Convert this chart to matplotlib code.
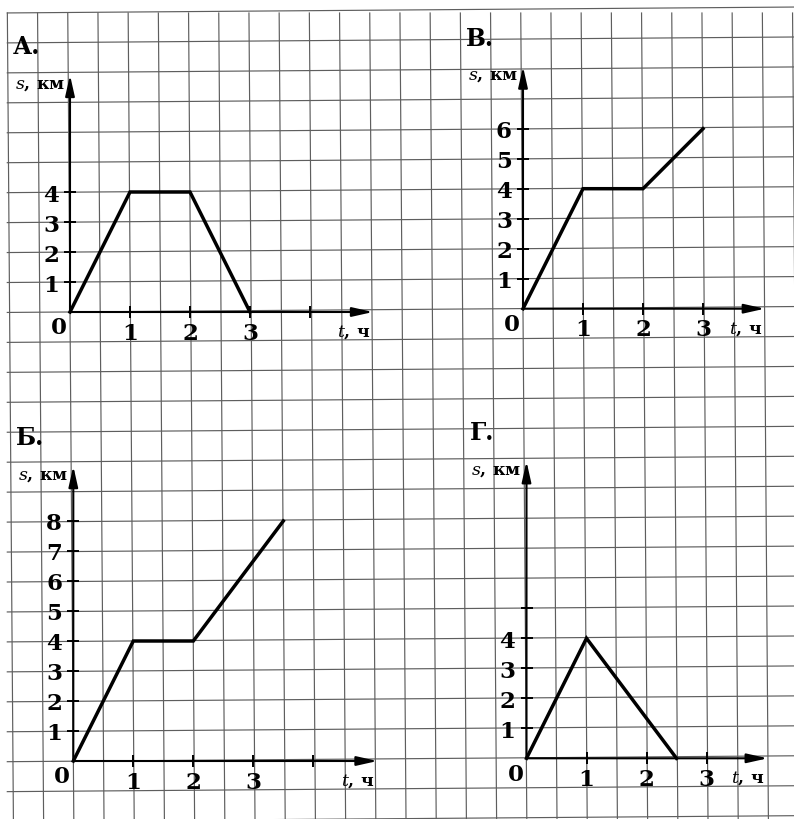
import matplotlib
matplotlib.use('Agg')
import matplotlib.pyplot as plt

plt.rcParams['font.family'] = ['DejaVu Serif']
plt.rcParams['mathtext.fontset'] = 'dejavuserif'

W, H = 794, 820

# graph data: time, h and distance, km
a_t = [0, 1, 2, 3]
a_s = [0, 4, 4, 0]
v_t = [0, 1, 2, 3]
v_s = [0, 4, 4, 6]
b_t = [0, 1, 2, 3.5]
b_s = [0, 4, 4, 8]
g_t = [0, 1, 2.5]
g_s = [0, 4, 0]

a_xticks = [1, 2, 3, 4]
a_xlabels = ['1', '2', '3', '']
a_yticks = [1, 2, 3, 4]
a_ylabels = ['1', '2', '3', '4']

v_xticks = [1, 2, 3]
v_xlabels = ['1', '2', '3']
v_yticks = [1, 2, 3, 4, 5, 6]
v_ylabels = ['1', '2', '3', '4', '5', '6']

b_xticks = [1, 2, 3, 4]
b_xlabels = ['1', '2', '3', '']
b_yticks = [1, 2, 3, 4, 5, 6, 7, 8]
b_ylabels = ['1', '2', '3', '4', '5', '6', '7', '8']

g_xticks = [1, 2, 3]
g_xlabels = ['1', '2', '3']
g_yticks = [1, 2, 3, 4, 5]
g_ylabels = ['1', '2', '3', '4', '']

# panel layout: name, origin px, axis lengths (h, km)
panels = [
    ('А.', (70, 313), 5.05, 7.9, a_t, a_s, a_xticks, a_xlabels, a_yticks, a_ylabels),
    ('В.', (523, 309.7), 4.03, 8.07, v_t, v_s, v_xticks, v_xlabels, v_yticks, v_ylabels),
    ('Б.', (73.3, 762), 5.07, 9.83, b_t, b_s, b_xticks, b_xlabels, b_yticks, b_ylabels),
    ('Г.', (526.5, 759.3), 4.02, 9.9, g_t, g_s, g_xticks, g_xlabels, g_yticks, g_ylabels),
]
PX_H = 60.0   # pixels per hour
PX_KM = 30.0  # pixels per km

fig = plt.figure(figsize=(W / 100, H / 100), dpi=100)
fig.patch.set_facecolor('white')

# squared paper background (scan is slightly tilted)
bg = fig.add_axes([0, 0, 1, 1])
bg.set_xlim(0, W)
bg.set_ylim(H, 0)
bg.axis('off')
tilt = 0.0075
grid_col = '#5e5e5e'
for k in range(27):
    x0 = 7.25 + 30.2 * k
    bg.plot([x0 + tilt * 14, x0 + tilt * H], [14, H], color=grid_col, lw=0.85)
for j in range(28):
    y0 = 14 + 29.95 * j
    bg.plot([7.3, W], [y0 - tilt * 7.3, y0 - tilt * W], color=grid_col, lw=0.85)

for name, (ox, oy), tmax, smax, t, s, xt, xl, yt, yl in panels:
    ax = fig.add_axes([ox / W, 1 - oy / H, PX_H * tmax / W, PX_KM * smax / H])
    ax.patch.set_visible(False)
    ax.set_xlim(0, tmax)
    ax.set_ylim(0, smax)
    for sp in ax.spines.values():
        sp.set_visible(False)

    # axes with arrows
    arrow = dict(arrowstyle='-|>,head_length=1.25,head_width=0.28', mutation_scale=10,
                 lw=1.5, color='black', shrinkA=0, shrinkB=0)
    ax.annotate('', xy=(tmax, 0), xytext=(0, 0), arrowprops=arrow, annotation_clip=False)
    ax.annotate('', xy=(0, smax), xytext=(0, 0), arrowprops=arrow, annotation_clip=False)

    ax.set_xticks(xt, xl)
    ax.set_yticks(yt, yl)
    ax.tick_params(direction='inout', length=9, width=1.4, labelsize=16.5, color='black')
    ax.tick_params(axis='x', pad=2.5)
    ax.tick_params(axis='y', pad=3.5)
    for lab in ax.get_xticklabels() + ax.get_yticklabels():
        lab.set_fontweight('bold')

    ax.plot(t, s, color='black', lw=2.5, solid_joinstyle='miter', clip_on=False, zorder=5)

    ax.annotate('0', xy=(0, 0), xytext=(-11, -15.5), textcoords='offset pixels',
                ha='center', va='center', fontsize=16.5, fontweight='bold',
                annotation_clip=False)
    ax.annotate('$\\mathbf{\\mathit{s}}$, км', xy=(0, smax), xytext=(-5, -8),
                textcoords='offset pixels', ha='right', va='center', fontsize=12.5,
                fontweight='bold', annotation_clip=False)
    ax.annotate('$\\mathbf{\\mathit{t}}$, ч', xy=(tmax, 0), xytext=(-3, -19),
                textcoords='offset pixels', ha='right', va='center', fontsize=12.5,
                fontweight='bold', annotation_clip=False)
    ax.annotate(name, xy=(0, smax), xytext=(-57, 29), textcoords='offset pixels',
                ha='left', va='center', fontsize=17, fontweight='bold', annotation_clip=False)

fig.savefig('out.png', dpi=100, facecolor='white')
